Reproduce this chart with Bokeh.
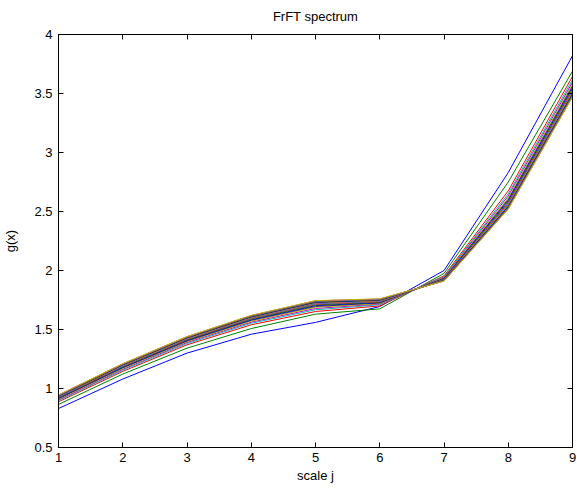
from bokeh.plotting import figure
from bokeh.models import LinearAxis, FixedTicker, CustomJSTickFormatter, Range1d
from bokeh.embed import file_html
from bokeh.resources import INLINE

scales = [1, 2, 3, 4, 5, 6, 7, 8, 9]

line_00 = [0.830, 1.080, 1.300, 1.460, 1.560, 1.695, 2.000, 2.830, 3.820]
line_01 = [0.865, 1.122, 1.342, 1.508, 1.630, 1.675, 1.975, 2.750, 3.690]
line_02 = [0.8875, 1.145, 1.370, 1.540, 1.6525, 1.700, 1.955, 2.675, 3.645]
line_03 = [0.8967, 1.155, 1.381, 1.553, 1.667, 1.710, 1.948, 2.650, 3.617]
line_04 = [0.9036, 1.163, 1.390, 1.562, 1.678, 1.716, 1.942, 2.632, 3.596]
line_05 = [0.9094, 1.170, 1.397, 1.570, 1.688, 1.720, 1.938, 2.616, 3.579]
line_06 = [0.914, 1.175, 1.402, 1.577, 1.695, 1.725, 1.934, 2.604, 3.565]
line_07 = [0.918, 1.179, 1.407, 1.582, 1.702, 1.728, 1.931, 2.593, 3.552]
line_08 = [0.922, 1.184, 1.412, 1.588, 1.708, 1.732, 1.928, 2.582, 3.540]
line_09 = [0.925, 1.188, 1.416, 1.593, 1.714, 1.735, 1.925, 2.573, 3.529]
line_10 = [0.928, 1.191, 1.420, 1.597, 1.718, 1.738, 1.923, 2.565, 3.521]
line_11 = [0.931, 1.194, 1.423, 1.600, 1.722, 1.741, 1.921, 2.559, 3.514]
line_12 = [0.933, 1.196, 1.425, 1.603, 1.726, 1.744, 1.919, 2.553, 3.507]
line_13 = [0.935, 1.199, 1.428, 1.606, 1.729, 1.747, 1.918, 2.546, 3.500]
line_14 = [0.937, 1.201, 1.430, 1.609, 1.732, 1.750, 1.916, 2.542, 3.494]
line_15 = [0.939, 1.203, 1.432, 1.611, 1.735, 1.752, 1.915, 2.537, 3.489]
line_16 = [0.940, 1.205, 1.434, 1.614, 1.738, 1.754, 1.914, 2.532, 3.484]
line_17 = [0.942, 1.207, 1.437, 1.616, 1.740, 1.756, 1.912, 2.528, 3.479]
line_18 = [0.944, 1.209, 1.439, 1.618, 1.743, 1.758, 1.911, 2.523, 3.473]
line_19 = [0.945, 1.210, 1.440, 1.620, 1.745, 1.760, 1.910, 2.520, 3.470]

series = [line_00, line_01, line_02, line_03, line_04, line_05, line_06,
          line_07, line_08, line_09, line_10, line_11, line_12, line_13,
          line_14, line_15, line_16, line_17, line_18, line_19]

color_order = ["#0000ff", "#008000", "#ff0000", "#00bfbf", "#bf00bf", "#bfbf00", "#404040"]

x_ticks = [1, 2, 3, 4, 5, 6, 7, 8, 9]
y_ticks = [0.5, 1, 1.5, 2, 2.5, 3, 3.5, 4]

FONT = "Liberation Sans"

p = figure(frame_width=514, frame_height=413, output_backend="svg",
           toolbar_location=None, x_range=Range1d(1, 9), y_range=Range1d(0.5, 4),
           min_border_left=10, min_border_right=4, min_border_top=10, min_border_bottom=10,
           title="FrFT spectrum")
p.background_fill_color = "white"
p.border_fill_color = "white"
p.grid.visible = False
p.outline_line_color = "black"
p.outline_line_width = 1

p.title.align = "center"
p.title.vertical_align = "top"
p.title.text_font = FONT
p.title.text_font_size = "13px"
p.title.text_font_style = "normal"
p.title.text_color = "black"
p.title.standoff = 17

fmt = CustomJSTickFormatter(code="return tick.toString();")

for ax in [p.xaxis[0], p.yaxis[0]]:
    ax.major_tick_in = 5
    ax.major_tick_out = 0
    ax.minor_tick_line_color = None
    ax.major_label_text_font = FONT
    ax.major_label_text_font_size = "13px"
    ax.major_label_text_color = "black"
    ax.axis_label_text_font = FONT
    ax.axis_label_text_font_size = "13px"
    ax.axis_label_text_font_style = "normal"
    ax.axis_label_text_color = "black"
    ax.axis_line_color = "black"
    ax.major_tick_line_color = "black"
    ax.formatter = fmt

p.xaxis[0].ticker = FixedTicker(ticks=x_ticks)
p.yaxis[0].ticker = FixedTicker(ticks=y_ticks)
p.xaxis[0].axis_label = "scale j"
p.yaxis[0].axis_label = "g(x)"
p.xaxis[0].major_label_standoff = 5
p.xaxis[0].axis_label_standoff = 3
p.yaxis[0].major_label_standoff = 6
p.yaxis[0].axis_label_standoff = 13

top_ax = LinearAxis(ticker=FixedTicker(ticks=x_ticks))
right_ax = LinearAxis(ticker=FixedTicker(ticks=y_ticks))
for ax in [top_ax, right_ax]:
    ax.major_tick_in = 5
    ax.major_tick_out = 0
    ax.minor_tick_line_color = None
    ax.major_label_text_color = None
    ax.major_label_text_font_size = "1px"
    ax.major_label_standoff = 0
    ax.axis_line_color = "black"
    ax.major_tick_line_color = "black"
p.add_layout(top_ax, "above")
p.add_layout(right_ax, "right")

for i, ys in enumerate(series):
    p.line(scales, ys, line_color=color_order[i % len(color_order)], line_width=1)

open("out.html", "w").write(file_html(p, INLINE))
